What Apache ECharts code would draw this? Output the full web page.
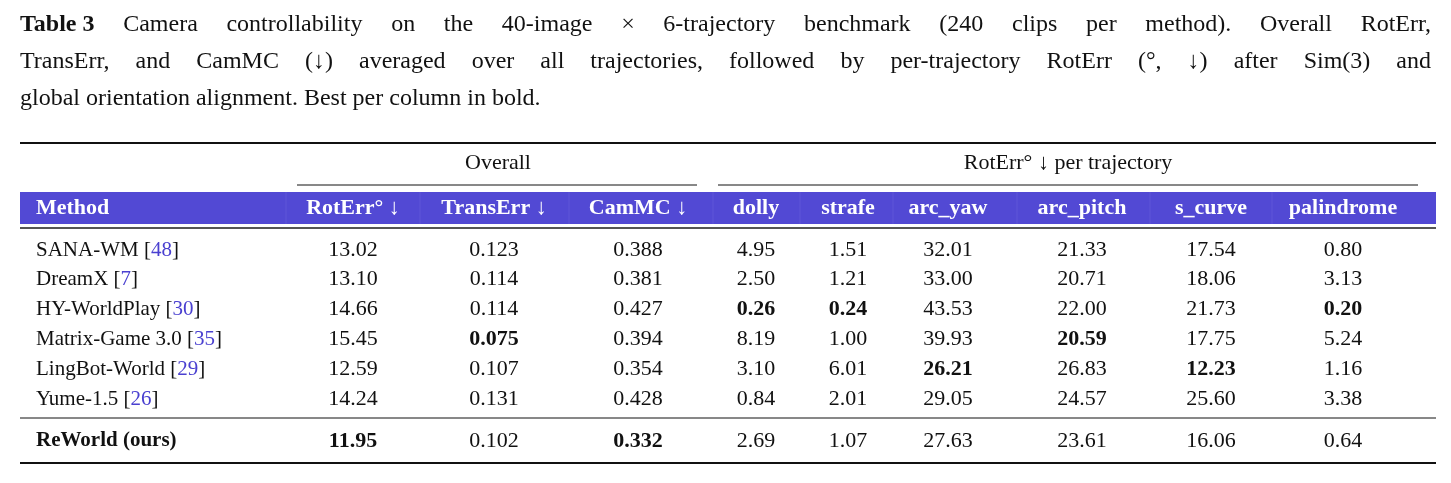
<!DOCTYPE html>
<html><head><meta charset="utf-8">
<script src="https://cdn.jsdelivr.net/npm/echarts@6/dist/echarts.min.js"></script>
<style>html,body{margin:0;padding:0;background:#fff}#c{width:1451px;height:483px}</style>
</head><body><div id="c"></div>
<script>
const captionLines = [
  ["Table 3", "Camera controllability on the 40-image × 6-trajectory benchmark (240 clips per method). Overall RotErr,"],
  ["", "TransErr, and CamMC (↓) averaged over all trajectories, followed by per-trajectory RotErr (°, ↓) after Sim(3) and"],
  ["", "global orientation alignment. Best per column in bold."]
];
const headers = ["Method","RotErr° ↓","TransErr ↓","CamMC ↓","dolly","strafe","arc_yaw","arc_pitch","s_curve","palindrome"];
const methods = ["SANA-WM","DreamX","HY-WorldPlay","Matrix-Game 3.0","LingBot-World","Yume-1.5","ReWorld (ours)"];
const refs = ["48","7","30","35","29","26",""];
const rotErr   = ["13.02","13.10","14.66","15.45","12.59","14.24","11.95"];
const transErr = ["0.123","0.114","0.114","0.075","0.107","0.131","0.102"];
const camMC    = ["0.388","0.381","0.427","0.394","0.354","0.428","0.332"];
const dolly    = ["4.95","2.50","0.26","8.19","3.10","0.84","2.69"];
const strafe   = ["1.51","1.21","0.24","1.00","6.01","2.01","1.07"];
const arcYaw   = ["32.01","33.00","43.53","39.93","26.21","29.05","27.63"];
const arcPitch = ["21.33","20.71","22.00","20.59","26.83","24.57","23.61"];
const sCurve   = ["17.54","18.06","21.73","17.75","12.23","25.60","16.06"];
const palin    = ["0.80","3.13","0.20","5.24","1.16","3.38","0.64"];
const cols = [rotErr,transErr,camMC,dolly,strafe,arcYaw,arcPitch,sCurve,palin];

const F = "'Liberation Serif', serif";
const CF = "24px "+F, CB = "bold 24px "+F;
const colX = [353,494,638,756,848,948,1082,1211,1343];
const bounds = [20,286,420,569,713,800,893,1017,1150,1272,1436];
const rowY = [250,279,309,339,369,399,441];
const g = [];
function txt(x,y,s,opt){ g.push({type:'text',x:x,y:y,style:Object.assign({text:s,font:'22px '+F,fill:'#111',textAlign:'center',textVerticalAlign:'middle'},opt||{})}); }
function line(x1,y1,x2,y2,w,c){ g.push({type:'line',shape:{x1,y1,x2,y2},style:{stroke:c||'#111',lineWidth:w}}); }
// caption with justified lines
const cv=document.createElement('canvas').getContext('2d');
function mw(s,f){cv.font=f;return cv.measureText(s).width;}
captionLines.forEach((l,i)=>{
  const y=25+i*37, x0=20, x1=1431;
  const words=[];
  if(l[0]) words.push([l[0],CB]);
  l[1].split(' ').forEach(w=>words.push([w,CF]));
  const tot=words.reduce((a,w)=>a+mw(w[0],w[1]),0);
  const justify=i<captionLines.length-1;
  const gap=justify?(x1-x0-tot)/(words.length-1):mw(' ',CF);
  let x=x0;
  words.forEach(w=>{g.push({type:'text',x:x,y:y,style:{text:w[0],font:w[1],fill:'#111',textVerticalAlign:'middle'}});x+=mw(w[0],w[1])+gap;});
});
line(20,143,1436,143,2);
txt(498,163,"Overall");
txt(1068,163,"RotErr° ↓ per trajectory");
line(297,185,697,185,1);
line(718,185,1418,185,1);
g.push({type:'rect',shape:{x:20,y:192,width:1416,height:32},style:{fill:'#5249D4'}});
for(let i=1;i<bounds.length-1;i++) line(bounds[i],192,bounds[i],224,1,'#5e56d8');
txt(36,208,headers[0],{font:'bold 22px '+F,fill:'#fff',textAlign:'left'});
headers.slice(1).forEach((h,i)=>txt(colX[i],208,h,{font:'bold 22px '+F,fill:'#fff'}));
line(20,228,1436,228,2,'#555');
const best = cols.map(c=>{let m=Math.min(...c.map(Number));return c.findIndex(v=>Number(v)===m);});
methods.forEach((m,r)=>{
  const y=rowY[r];
  if(refs[r]) g.push({type:'text',x:36,y:y,style:{text:'{n|'+m+' [}{r|'+refs[r]+'}{n|]}',textVerticalAlign:'middle',
    rich:{n:{font:'21px '+F,fill:'#111'},r:{font:'21px '+F,fill:'#4a40d0'}}}});
  else txt(36,y,m,{font:'bold 21px '+F,textAlign:'left'});
  cols.forEach((c,j)=>txt(colX[j],y,c[r],best[j]===r?{font:'bold 22px '+F}:{}));
});
line(20,418,1436,418,1);
line(20,463,1436,463,2);
const chart = echarts.init(document.getElementById('c'));
chart.setOption({animation:false,graphic:g});
</script></body></html>
